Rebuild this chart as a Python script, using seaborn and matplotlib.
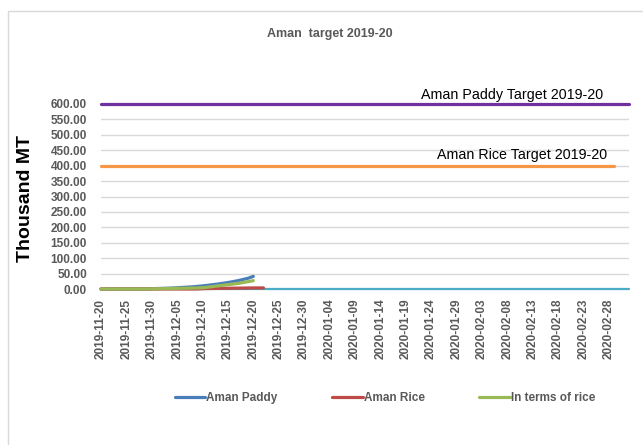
import seaborn as sns
import matplotlib.pyplot as plt
import matplotlib.patches as patches
import pandas as pd
import numpy as np

sns.set_theme(style='white')
plt.rcParams['font.family'] = ['Liberation Sans', 'DejaVu Sans']

# category axis: one entry per day
days = pd.date_range('2019-11-20', '2020-03-03', freq='D')
tick_labels = [d.strftime('%Y-%m-%d') for d in days[::5]][:21]

aman_paddy = [0, 0, 0, 0, 0, 0, 0, 0, 0, 0.5, 1, 1.5, 2,
              2.5, 3, 4, 5, 6, 7, 8.5, 10, 12, 14, 16, 18.5, 21, 24, 27, 31, 35, 41]
aman_rice = [0] * 20 + [1, 1.5, 1.8, 2, 2.2, 2.4, 2.6, 2.8, 3, 3.2, 3.4, 3.5, 3.5]
in_terms_of_rice = [0, 0, 0, 0, 0, 0, 0, 0, 0, 0.3, 0.6, 0.9, 1.2, 1.5, 1.8, 2.1, 2.4, 2.7,
                    3, 3.5, 4, 6, 8, 10, 12, 14, 16, 18, 21, 24, 27]
paddy_target = 600.0
rice_target = 400.0
rice_target_end = '2020-02-29'

frames = []
for name, vals in [('Aman Paddy', aman_paddy), ('Aman Rice', aman_rice),
                   ('In terms of rice', in_terms_of_rice)]:
    frames.append(pd.DataFrame({'day': np.arange(len(vals)), 'value': vals, 'series': name}))
df = pd.concat(frames)

colors = {'Aman Paddy': '#4A7EBB', 'Aman Rice': '#BE4B48', 'In terms of rice': '#98B954'}
grey = '#595959'

fig = plt.figure(figsize=(6.43, 4.45), dpi=100)
ax = fig.add_axes([101 / 643, 1 - 289 / 445, 528 / 643, 185 / 445])

# targets
n_days = len(days) - 1
rice_end = list(days).index(pd.Timestamp(rice_target_end))
ax.plot([0, n_days], [paddy_target, paddy_target], color='#7030A0', lw=2.3, clip_on=False, zorder=3)
ax.plot([0, rice_end], [rice_target, rice_target], color='#F79646', lw=2.3, clip_on=False, zorder=3)

# zero series along the axis
ax.plot([0, n_days], [0, 0], color='#4BACC6', lw=1.6, clip_on=False, zorder=2)

sns.lineplot(data=df, x='day', y='value', hue='series', palette=colors, lw=2.3,
             ax=ax, legend=False, zorder=4, clip_on=False)

ax.set_xlim(0, n_days)
ax.set_ylim(0, 600)
ax.set_yticks(np.arange(0, 601, 50))
ax.set_yticklabels([f'{v:.2f}' for v in np.arange(0, 601, 50)], fontsize=8.5,
                   fontweight='bold', color=grey)
ax.set_xticks(np.arange(0, 101, 5))
ax.set_xticklabels(tick_labels, rotation=90, fontsize=8.5, fontweight='bold', color=grey)
ax.tick_params(axis='x', length=4, color='#4BACC6', width=1, direction='out', pad=3)
ax.tick_params(axis='y', length=0, pad=10)
ax.grid(axis='y', color='#D9D9D9', lw=1)
for s in ax.spines.values():
    s.set_visible(False)
ax.set_xlabel('')
ax.set_ylabel('Thousand MT', fontsize=14, fontweight='bold', color='black')
ax.yaxis.set_label_coords(-0.127, 0.49)

ax.text(81, 630, 'Aman Paddy Target 2019-20', fontsize=10.3, ha='center', va='center', color='black')
ax.text(83, 435, 'Aman Rice Target 2019-20', fontsize=10.3, ha='center', va='center', color='black')

fig.text(330 / 643, 1 - 34 / 445, 'Aman  target 2019-20', fontsize=9, fontweight='bold',
         color=grey, ha='center', va='center')

handles = [plt.Line2D([], [], color=colors[k], lw=2.3) for k in colors]
leg = fig.legend(handles, list(colors), loc='center', bbox_to_anchor=(385 / 643, 1 - 398 / 445),
                 ncol=3, frameon=False, handlelength=2.6, handletextpad=0.1, columnspacing=4.6,
                 prop={'size': 8.5, 'weight': 'bold'})
for t in leg.get_texts():
    t.set_color(grey)

fig.patches.append(patches.Rectangle((8 / 643, -0.1), 1.0, 1 - 11 / 445 + 0.1,
                                     transform=fig.transFigure, fill=False,
                                     edgecolor='#D9D9D9', lw=1))

fig.savefig('out.png', dpi=100)
